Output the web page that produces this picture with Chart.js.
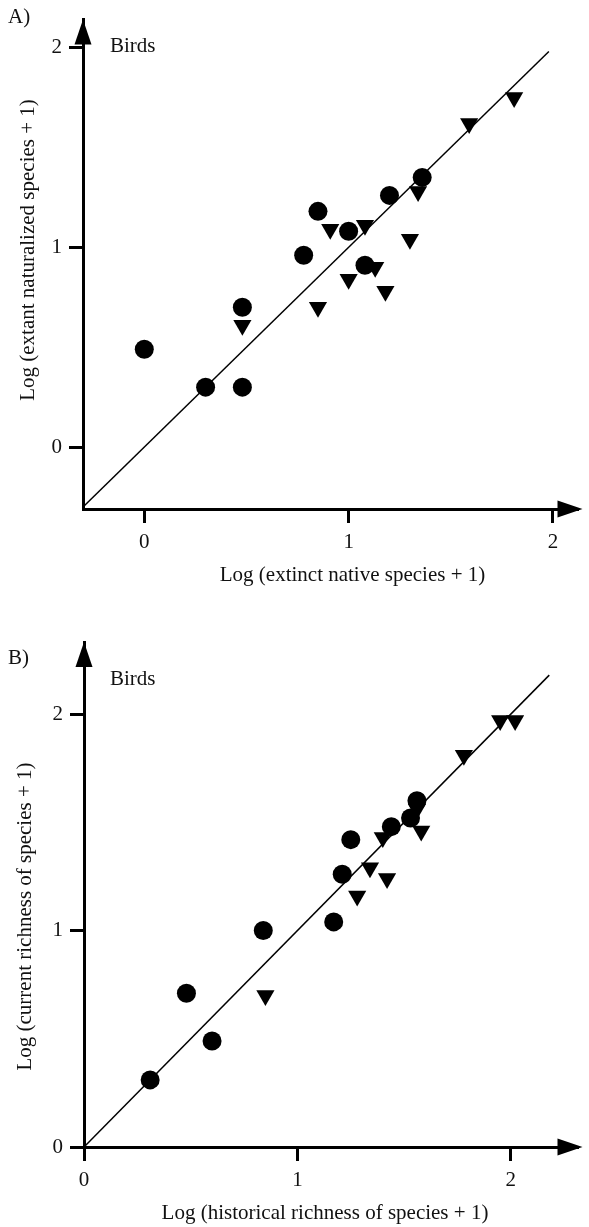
<!DOCTYPE html>
<html>
<head>
<meta charset="utf-8">
<script src="https://cdn.jsdelivr.net/npm/chart.js@4/dist/chart.umd.min.js"></script>
<style>
  html, body { margin: 0; padding: 0; background: #fff; }
  #wrap { position: relative; width: 589px; height: 1227px; }
  canvas { position: absolute; left: 0; }
</style>
</head>
<body>
<div id="wrap">
  <canvas id="panelA" width="589" height="600" style="top:0"></canvas>
  <canvas id="panelB" width="589" height="627" style="top:600px"></canvas>
</div>
<script>
// Tick values shared by both panels
const xTickValues = [0, 1, 2];
const yTickValues = [0, 1, 2];

// Panel A: log(extinct native species + 1) vs log(extant naturalized species + 1)
const aCircleX   = [0.00, 0.30, 0.48, 0.48, 0.78, 0.85, 1.00, 1.08, 1.20, 1.36];
const aCircleY   = [0.49, 0.30, 0.30, 0.70, 0.96, 1.18, 1.08, 0.91, 1.26, 1.35];
const aTriangleX = [0.48, 0.85, 0.91, 1.00, 1.08, 1.13, 1.18, 1.30, 1.34, 1.59, 1.81];
const aTriangleY = [0.61, 0.70, 1.09, 0.84, 1.11, 0.90, 0.78, 1.04, 1.28, 1.62, 1.75];
const aOneToOne  = [-0.3, 1.98];

// Panel B: log(historical richness + 1) vs log(current richness + 1)
const bCircleX   = [0.31, 0.48, 0.60, 0.84, 1.17, 1.21, 1.25, 1.44, 1.53, 1.56];
const bCircleY   = [0.31, 0.71, 0.49, 1.00, 1.04, 1.26, 1.42, 1.48, 1.52, 1.60];
const bTriangleX = [0.85, 1.28, 1.34, 1.40, 1.42, 1.56, 1.58, 1.78, 1.95, 2.02];
const bTriangleY = [0.70, 1.16, 1.29, 1.43, 1.24, 1.56, 1.46, 1.81, 1.97, 1.97];
const bOneToOne  = [0, 2.18];

const FONT = '"Liberation Serif", "Times New Roman", serif';
const INK = '#111';

const pts = (xs, ys) => xs.map((x, i) => ({ x, y: ys[i] }));

// Arrowheads, panel letter, group label and axis titles
const decor = {
  id: 'decor',
  afterDraw(chart, args, o) {
    const { ctx, chartArea: { left, right, top, bottom } } = chart;
    ctx.save();
    ctx.fillStyle = '#000';
    // y-axis arrowhead
    ctx.beginPath();
    ctx.moveTo(left, top);
    ctx.lineTo(left - 8.5, top + 25);
    ctx.lineTo(left + 8.5, top + 25);
    ctx.closePath();
    ctx.fill();
    // x-axis arrowhead
    ctx.beginPath();
    ctx.moveTo(right + 4, bottom);
    ctx.lineTo(right - 21, bottom - 8.5);
    ctx.lineTo(right - 21, bottom + 8.5);
    ctx.closePath();
    ctx.fill();

    ctx.fillStyle = INK;
    ctx.font = '21px ' + FONT;
    ctx.textBaseline = 'alphabetic';
    ctx.textAlign = 'left';
    ctx.fillText(o.panel, 8, o.panelY);
    ctx.fillText(o.group, 110, o.groupY);

    ctx.textAlign = 'center';
    ctx.fillText(o.xTitle, o.xTitleX, bottom + 72);

    ctx.translate(o.yTitleX, o.yTitleY);
    ctx.rotate(-Math.PI / 2);
    ctx.fillText(o.yTitle, 0, 0);
    ctx.restore();
  }
};

function axis(min, max, ticks, fitSize, horizontal) {
  return {
    type: 'linear',
    min, max,
    afterBuildTicks: (s) => { s.ticks = ticks.map(v => ({ value: v })); },
    afterFit: (s) => { if (horizontal) s.height = fitSize; else s.width = fitSize; },
    grid: {
      display: true,
      drawOnChartArea: false,
      drawTicks: true,
      tickLength: 14,
      tickWidth: 3,
      tickColor: '#000'
    },
    border: { display: true, color: '#000', width: 3 },
    ticks: {
      color: INK,
      font: { family: FONT, size: 21 },
      padding: 7,
      autoSkip: false,
      maxRotation: 0,
      callback: (v) => String(v)
    },
    title: { display: false }
  };
}

function makePanel(id, p) {
  return new Chart(document.getElementById(id), {
    type: 'scatter',
    data: {
      datasets: [
        {
          data: pts(p.cx, p.cy),
          pointStyle: 'circle',
          pointRadius: 9.5,
          pointBorderWidth: 0,
          backgroundColor: '#000',
          borderColor: '#000',
          order: 0
        },
        {
          data: pts(p.tx, p.ty),
          pointStyle: 'triangle',
          pointRotation: 180,
          pointRadius: 10.5,
          pointBorderWidth: 0,
          backgroundColor: '#000',
          borderColor: '#000',
          order: 0
        },
        {
          type: 'line',
          data: pts(p.line, p.line),
          showLine: true,
          borderColor: '#000',
          borderWidth: 1.5,
          pointRadius: 0,
          fill: false,
          order: 1
        }
      ]
    },
    options: {
      responsive: false,
      animation: false,
      devicePixelRatio: 1,
      layout: { padding: { top: p.padTop, right: 0, bottom: 0, left: 0 } },
      plugins: {
        legend: { display: false },
        tooltip: { enabled: false },
        decor: p.decor
      },
      scales: {
        x: axis(p.xMin, p.xMax, xTickValues, p.xFit, true),
        y: axis(p.yMin, p.yMax, yTickValues, p.yFit, false)
      }
    },
    plugins: [decor]
  });
}

makePanel('panelA', {
  cx: aCircleX, cy: aCircleY, tx: aTriangleX, ty: aTriangleY, line: aOneToOne,
  xMin: -0.3, xMax: 2.125, yMin: -0.31, yMax: 2.14,
  padTop: 5, xFit: 91, yFit: 83,
  decor: {
    panel: 'A)', panelY: 22.5, group: 'Birds', groupY: 51.5,
    xTitle: 'Log (extinct native species + 1)', xTitleX: 352.5,
    yTitle: 'Log (extant naturalized species + 1)', yTitleX: 34, yTitleY: 250
  }
});

makePanel('panelB', {
  cx: bCircleX, cy: bCircleY, tx: bTriangleX, ty: bTriangleY, line: bOneToOne,
  xMin: 0, xMax: 2.317, yMin: 0, yMax: 2.333,
  padTop: 42, xFit: 80, yFit: 84,
  decor: {
    panel: 'B)', panelY: 64, group: 'Birds', groupY: 85,
    xTitle: 'Log (historical richness of species + 1)', xTitleX: 325,
    yTitle: 'Log (current richness of species + 1)', yTitleX: 31, yTitleY: 316.5
  }
});
</script>
</body>
</html>
